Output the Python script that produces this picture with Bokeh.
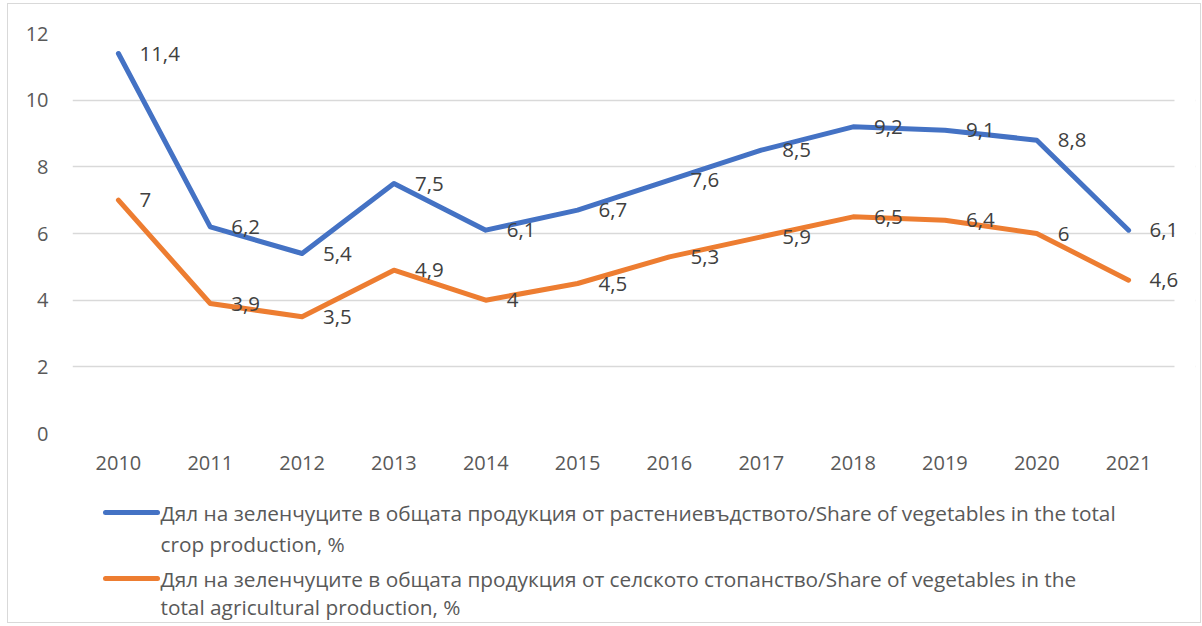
from bokeh.plotting import figure
from bokeh.models import (ColumnDataSource, Range1d, FixedTicker, SingleIntervalTicker, LabelSet,
                          BoxAnnotation)
from bokeh.layouts import column
from bokeh.embed import file_html
from bokeh.resources import INLINE
from bokeh.core.properties import value

years = ["2010", "2011", "2012", "2013", "2014", "2015", "2016", "2017", "2018", "2019", "2020", "2021"]
crop_share = [11.4, 6.2, 5.4, 7.5, 6.1, 6.7, 7.6, 8.5, 9.2, 9.1, 8.8, 6.1]
agri_share = [7.0, 3.9, 3.5, 4.9, 4.0, 4.5, 5.3, 5.9, 6.5, 6.4, 6.0, 4.6]
series_names = [
    ["Дял на зеленчуците в общата продукция от растениевъдството/Share of vegetables in the total",
     "crop production, %"],
    ["Дял на зеленчуците в общата продукция от селското стопанство/Share of vegetables in the",
     "total agricultural production, %"],
]
colors = ["#4472C4", "#ED7D31"]

FONT = "Open Sans"
FS = "20px"


def fmt(v):
    return ("%g" % v).replace(".", ",")


idx = list(range(len(years)))
W = 1192
FL, FR = 64, 5
PAGE_L, PAGE_R = 72, 1195      # frame edges in page pixels
band_px = (1174 - PAGE_L) / len(years)
x_end = len(years) - 0.5 + (PAGE_R - 1174) / band_px

p = figure(x_range=Range1d(-0.5, x_end), y_range=Range1d(0, 12),
           width=W, height=480, output_backend="svg", toolbar_location=None,
           min_border_left=FL, min_border_right=FR, min_border_top=29, min_border_bottom=51)
p.outline_line_color = None
p.background_fill_color = "white"
p.border_fill_color = "white"

p.yaxis.ticker = SingleIntervalTicker(interval=2)
p.xaxis.ticker = FixedTicker(ticks=idx)
p.xaxis.major_label_overrides = {i: y for i, y in zip(idx, years)}
for ax in (p.xaxis, p.yaxis):
    ax.axis_line_color = None
    ax.major_tick_line_color = None
    ax.minor_tick_line_color = None
    ax.major_label_text_font = FONT
    ax.major_label_text_font_size = FS
    ax.major_label_text_color = "#595959"
p.yaxis.major_label_standoff = 18
p.xaxis.major_label_standoff = 16
p.xgrid.grid_line_color = None
p.ygrid.grid_line_color = "#d9d9d9"
p.ygrid.grid_line_width = 1.5
# keep gridlines inside the category area (Excel plot area ends after the last band)
p.add_layout(BoxAnnotation(left=len(years) - 0.5, fill_color="white", fill_alpha=1,
                           line_color=None, level="underlay"))

for vals, col in zip([crop_share, agri_share], colors):
    src = ColumnDataSource(dict(x=idx, y=vals, lab=[fmt(v) for v in vals]))
    p.line("x", "y", source=src, line_color=col, line_width=5, line_join="round", line_cap="round")
    p.add_layout(LabelSet(x="x", y="y", text="lab", source=src, x_offset=21, text_baseline="middle",
                          text_align="left", text_font=value(FONT), text_font_size=value("20.5px"),
                          text_color=value("#404040")))

# legend panel (page pixels horizontally, pixels from panel top vertically)
H2 = 138
leg = figure(x_range=Range1d(PAGE_L, PAGE_R), y_range=Range1d(H2, 0), width=W, height=H2,
             output_backend="svg", toolbar_location=None,
             min_border_left=FL, min_border_right=FR, min_border_top=0, min_border_bottom=0)
leg.axis.visible = False
leg.grid.visible = False
leg.outline_line_color = None
rows_y = [[28, 59], [94, 122]]
for names, col, ys in zip(series_names, colors, rows_y):
    leg.line([105, 157], [ys[0], ys[0]], line_color=col, line_width=5, line_cap="round")
    leg.text([160, 160], ys, text=names, text_baseline="middle", text_align="left",
             text_font=value(FONT), text_font_size="20.8px", text_color="#595959")

layout = column(p, leg, spacing=0,
                styles={"border": "1px solid #d9d9d9", "margin-left": "7px", "margin-top": "3px"})
open("out.html", "w").write(file_html(layout, INLINE))
